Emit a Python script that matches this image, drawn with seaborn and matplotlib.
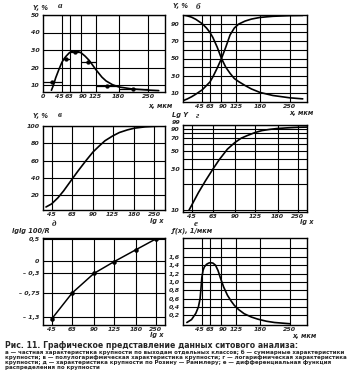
import matplotlib
matplotlib.use("Agg")
import matplotlib.pyplot as plt
import matplotlib.transforms as mtransforms
from matplotlib.ticker import FixedLocator, FixedFormatter, NullLocator, NullFormatter
import seaborn as sns

sns.set_style("white")
plt.rcParams['font.family'] = ['DejaVu Sans']

# ---------------- data ----------------
sizes = [45, 63, 90, 125, 180, 250]
size_labels = ["45", "63", "90", "125", "180", "250"]

# а — partial yields by class
a_class_lo = [0, 45, 63, 90, 125, 180]
a_class_hi = [45, 63, 90, 125, 180, 250]
a_class_y = [12, 25, 29, 23, 9.4, 8]
a_point_x = [22, 54, 77, 108, 152, 215]
a_point_y = [12, 25, 29, 23, 9.4, 8]
a_curve_x = [20, 25, 30, 38, 45, 50, 55, 63, 70, 75, 80, 90, 100, 110, 125, 140, 150, 165, 180, 210, 250, 275]
a_curve_y = [7, 10, 14, 19, 23, 25, 26.5, 28.5, 29.3, 29.5, 29.3, 28.5, 26.5, 24, 19, 14.5, 12.3, 10.2, 8.9, 7.8, 7.1, 6.8]
a_xticks = [0, 45, 63, 90, 125, 180, 250]
a_xlabels = ["0", "45", "63", "90", "125", "180", "250"]
a_yticks = [10, 20, 30, 40, 50]

# б — cumulative curves
b_x = [0, 10, 20, 30, 45, 55, 63, 70, 80, 90, 100, 110, 120, 130, 145, 160, 180, 210, 250, 280]
b_under = [1.5, 3.5, 6, 9, 14, 19, 23, 29, 39, 50, 63, 77, 85, 89.5, 93, 95.3, 97.2, 98.5, 99.3, 99.5]
b_over = [100, 99, 97.5, 95, 90, 85, 80, 74, 63, 50, 40, 33, 27, 23.5, 19, 15, 11, 7.5, 4.8, 3.6]
b_yticks = [10, 30, 50, 70, 90]

# в — semi-log
v_x = [41, 45, 50, 55, 63, 70, 80, 90, 100, 110, 125, 140, 160, 180, 215, 250, 290]
v_y = [6.5, 10, 17, 25, 38, 48, 60, 70, 77, 83, 88.5, 92.5, 95.5, 97.5, 99, 99.6, 100]
v_yticks = [20, 40, 60, 80, 100]

# г — log-log
g_x = [43, 45, 50, 56, 63, 70, 80, 90, 100, 110, 125, 140, 160, 180, 220, 250, 290]
g_y = [10, 11.5, 16, 22, 30, 39, 52, 62, 70, 75, 81.5, 86, 89, 91, 93, 94, 94.5]
g_yticks = [10, 30, 50, 70, 90]
g_top_label = "99"

# д — Rosin–Rammler
d_x = [45, 63, 90, 125, 180, 250]
d_y = [-1.35, -0.75, -0.3, -0.03, 0.25, 0.5]
d_yticks = [0.5, 0, -0.3, -0.75, -1.3]
d_ylabels = ["0,5", "0", "– 0,3", "– 0,75", "– 1,3"]

# е — differential distribution
e_x = [9, 20, 30, 36, 40, 42, 44, 47, 50, 55, 60, 64, 70, 76, 82, 88, 95, 104, 112, 120, 130, 143, 160, 175, 195, 214, 250]
e_y = [0.03, 0.1, 0.25, 0.4, 0.6, 0.84, 1.1, 1.28, 1.36, 1.42, 1.45, 1.46, 1.45, 1.40, 1.27, 1.08, 0.88, 0.68, 0.55, 0.44, 0.34, 0.24, 0.16, 0.11, 0.06, 0.03, 0.0]
e_yticks = [0.2, 0.4, 0.6, 0.8, 1.0, 1.2, 1.4, 1.6]
e_ylabels = ["0,2", "0,4", "0,6", "0,8", "1,0", "1,2", "1,4", "1,6"]

caption_title = "Рис. 11. Графическое представление данных ситового анализа:"
caption_lines = [
    "а — частная характеристика крупности по выходам отдельных классов; б — суммарные характеристики",
    "крупности; в — полулогарифмическая характеристика крупности; г — логарифмическая характеристика",
    "крупности; д — характеристика крупности по Розину — Раммлеру; е — дифференциальная функция",
    "распределения по крупности",
]

# ---------------- figure ----------------
W, H = 350, 384
fig = plt.figure(figsize=(W / 100, H / 100), dpi=100)
fig.patch.set_facecolor("white")


def make_ax(left, right, top, bottom):
    return fig.add_axes([left / W, 1 - bottom / H, (right - left) / W, (bottom - top) / H])


TFS = 4.5
lab_font = dict(fontsize=4.8, fontstyle="italic", fontweight="bold", family="DejaVu Sans")
letter_font = dict(fontsize=6.5, fontstyle="italic", fontweight="bold", family="Liberation Serif")
LW = 1.2
GW = 0.8


def style(ax, xticks, xlabels, yticks, ylabels, hgrid, vgrid=None, crowded=False):
    ax.xaxis.set_major_locator(FixedLocator(xticks))
    ax.xaxis.set_major_formatter(FixedFormatter(xlabels))
    ax.xaxis.set_minor_locator(NullLocator())
    ax.xaxis.set_minor_formatter(NullFormatter())
    ax.yaxis.set_major_locator(FixedLocator(yticks))
    ax.yaxis.set_major_formatter(FixedFormatter(ylabels))
    ax.yaxis.set_minor_locator(NullLocator())
    ax.yaxis.set_minor_formatter(NullFormatter())
    ax.tick_params(axis="x", length=0, pad=1.5)
    ax.tick_params(axis="y", length=0, pad=2.5)
    for lab in ax.get_xticklabels() + ax.get_yticklabels():
        lab.set_fontsize(TFS)
        lab.set_fontstyle("italic")
        lab.set_fontweight("bold")
    if crowded:
        # spread the closely spaced labels 45 / 63 / 90 as in the original
        shifts = {"45": -2.8, "63": 0.0, "90": 1.8}
        for lab in ax.get_xticklabels():
            dx = shifts.get(lab.get_text())
            if dx:
                lab.set_transform(lab.get_transform() +
                                  mtransforms.ScaledTranslation(dx / 100, 0, fig.dpi_scale_trans))
    for v in (vgrid if vgrid is not None else xticks):
        ax.axvline(v, color="black", lw=GW, zorder=1)
    for h in hgrid:
        ax.axhline(h, color="black", lw=GW, zorder=1)
    for s in ax.spines.values():
        s.set_color("black")
        s.set_linewidth(1.0)
    ax.set_xlabel("")
    ax.set_ylabel("")


# а
ax = make_ax(43, 165, 15, 92)
sns.lineplot(x=a_curve_x, y=a_curve_y, ax=ax, color="black", lw=LW, zorder=3)
ax.hlines(a_class_y, a_class_lo, a_class_hi, color="black", lw=0.9, zorder=2)
sns.scatterplot(x=a_point_x, y=a_point_y, ax=ax, color="black", s=8, zorder=4, edgecolor="black")
ax.set_xlim(0, 290)
ax.set_ylim(6, 50)
style(ax, a_xticks, a_xlabels, a_yticks, [str(t) for t in a_yticks], a_yticks, sizes, crowded=True)
fig.text(33 / W, 1 - 8 / H, "Y, %", ha="left", va="center", **lab_font)
fig.text(58 / W, 1 - 6 / H, "а", ha="left", va="center", **letter_font)
fig.text(148 / W, 1 - 106 / H, "x, мкм", ha="left", va="center", **lab_font)

# б
ax = make_ax(183, 307, 15, 102)
sns.lineplot(x=b_x, y=b_under, ax=ax, color="black", lw=LW, zorder=3)
sns.lineplot(x=b_x, y=b_over, ax=ax, color="black", lw=LW, zorder=3)
ax.set_xlim(0, 290)
ax.set_ylim(0, 100)
style(ax, sizes, size_labels, b_yticks, [str(t) for t in b_yticks], list(range(10, 100, 10)), crowded=True)
fig.text(173 / W, 1 - 6 / H, "Y, %", ha="left", va="center", **lab_font)
fig.text(196 / W, 1 - 7 / H, "б", ha="left", va="center", **letter_font)
fig.text(289 / W, 1 - 113 / H, "x, мкм", ha="left", va="center", **lab_font)

# в
ax = make_ax(43, 165, 126, 210)
sns.lineplot(x=v_x, y=v_y, ax=ax, color="black", lw=LW, zorder=3)
ax.set_xscale("log")
ax.set_xlim(39, 300)
ax.set_ylim(3, 100)
style(ax, sizes, size_labels, v_yticks, [str(t) for t in v_yticks], v_yticks)
fig.text(33 / W, 1 - 116 / H, "Y, %", ha="left", va="center", **lab_font)
fig.text(58 / W, 1 - 115 / H, "в", ha="left", va="center", **letter_font)
fig.text(150 / W, 1 - 221 / H, "lg x", ha="left", va="center", **lab_font)

# г
ax = make_ax(183, 307, 125, 212)
sns.lineplot(x=g_x, y=g_y, ax=ax, color="black", lw=LW, zorder=3)
ax.set_xscale("log")
ax.set_yscale("log")
ax.set_xlim(39, 290)
ax.set_ylim(9.5, 100)
style(ax, sizes, size_labels, g_yticks, [str(t) for t in g_yticks], list(range(10, 101, 10)))
fig.text(181 / W, 1 - 122.5 / H, g_top_label, ha="right", va="center",
         fontsize=TFS, fontstyle="italic", fontweight="bold", family="DejaVu Sans")
fig.text(172 / W, 1 - 115 / H, "Lg Y", ha="left", va="center", **lab_font)
fig.text(196 / W, 1 - 116 / H, "г", ha="left", va="center", **letter_font)
fig.text(300 / W, 1 - 222 / H, "lg x", ha="left", va="center", **lab_font)
fig.text(194 / W, 1 - 224 / H, "е", ha="left", va="center", **letter_font)

# д
ax = make_ax(43, 165, 238, 325)
sns.lineplot(x=d_x, y=d_y, ax=ax, color="black", lw=LW * 0.9, zorder=3)
sns.scatterplot(x=d_x, y=d_y, ax=ax, color="black", s=9, zorder=4, edgecolor="black")
ax.set_xscale("log")
ax.set_xlim(39, 290)
ax.set_ylim(-1.49, 0.52)
style(ax, sizes, size_labels, d_yticks, d_ylabels, d_yticks)
fig.text(12 / W, 1 - 231 / H, "lglg 100/R", ha="left", va="center", **lab_font)
fig.text(52 / W, 1 - 224 / H, "д", ha="left", va="center", **letter_font)
fig.text(150 / W, 1 - 335 / H, "lg x", ha="left", va="center", **lab_font)

# е
ax = make_ax(183, 307, 238, 325)
sns.lineplot(x=e_x, y=e_y, ax=ax, color="black", lw=LW, zorder=3)
ax.set_xlim(0, 290)
ax.set_ylim(-0.03, 2.05)
style(ax, sizes, size_labels, e_yticks, e_ylabels, [0.2, 0.4, 0.6, 0.8, 1.0, 1.2, 1.4, 1.6, 1.8], crowded=True)
fig.text(172 / W, 1 - 231 / H, "ƒ(x), 1/мкм", ha="left", va="center", **lab_font)
fig.text(292 / W, 1 - 336 / H, "x, мкм", ha="left", va="center", **lab_font)

# caption
fig.text(5 / W, 1 - 345 / H, caption_title, ha="left", va="center",
         fontsize=5.6, fontweight="bold", family="DejaVu Sans")
for i, line in enumerate(caption_lines):
    fig.text(5 / W, 1 - (352.5 + 5 * i) / H, line, ha="left", va="center",
             fontsize=4.0, fontweight="bold", family="DejaVu Sans")

fig.savefig("out.png", dpi=100, facecolor="white")
